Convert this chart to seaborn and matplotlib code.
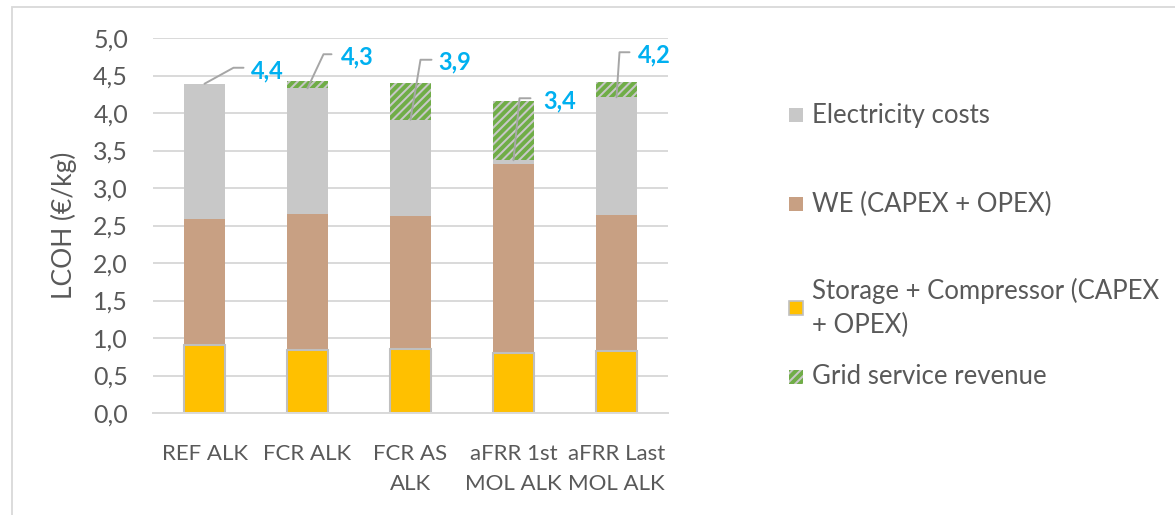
import numpy as np
import pandas as pd
import matplotlib
matplotlib.use("Agg")
import matplotlib.pyplot as plt
import seaborn as sns
from matplotlib.patches import Rectangle
from matplotlib.lines import Line2D

categories = ["REF ALK", "FCR ALK", "FCR AS\nALK", "aFRR 1st\nMOL ALK", "aFRR Last\nMOL ALK"]
storage = [0.91, 0.835, 0.855, 0.80, 0.83]
we = [1.68, 1.815, 1.775, 2.515, 1.81]
electricity = [1.80, 1.68, 1.28, 0.055, 1.57]
grid_revenue = [0.0, 0.10, 0.49, 0.79, 0.21]
legend_labels = ["Electricity costs", "WE (CAPEX + OPEX)",
                 "Storage + Compressor (CAPEX\n+ OPEX)", "Grid service revenue"]

sns.set_theme(style="white")
plt.rcParams["font.family"] = ["Lato", "DejaVu Sans"]
plt.rcParams["hatch.linewidth"] = 2.8
plt.rcParams["hatch.color"] = "#70AD47"

C_ELEC = "#C8C8C8"
C_WE = "#C8A083"
C_STOR = "#FFC000"
C_GREEN = "#70AD47"
TXT = "#595959"
GRID = "#D9D9D9"

s = np.array(storage)
l1 = s
l2 = s + np.array(we)
l3 = l2 + np.array(electricity)
l4 = l3 + np.array(grid_revenue)

df = pd.DataFrame({"cat": categories, "stor": l1, "we": l2, "elec": l3, "tot": l4})

fig = plt.figure(figsize=(11.75, 5.15), dpi=100)
ax = fig.add_axes([153/1175, (515-413)/515, (668-153)/1175, (413-38)/515])

W = 0.40
sns.barplot(data=df, x="cat", y="tot", color=C_ELEC, width=W, ax=ax,
            linewidth=0, hatch="////", edgecolor=C_GREEN, saturation=1, zorder=3)
sns.barplot(data=df, x="cat", y="elec", color=C_ELEC, width=W, ax=ax,
            linewidth=0, saturation=1, zorder=3)
sns.barplot(data=df, x="cat", y="we", color=C_WE, width=W, ax=ax,
            linewidth=0, saturation=1, zorder=3)
sns.barplot(data=df, x="cat", y="stor", color=C_STOR, width=W, ax=ax,
            linewidth=1.5, edgecolor="#BFBFBF", saturation=1, zorder=3)

ax.set_ylim(0, 5.0)
ax.set_xlim(-0.5, len(categories) - 0.5)
ax.set_yticks(np.arange(0, 5.01, 0.5))
ax.set_yticklabels([f"{v:.1f}".replace(".", ",") for v in np.arange(0, 5.01, 0.5)])
ax.yaxis.grid(True, color=GRID, linewidth=1.4, zorder=0)
ax.set_axisbelow(True)
for sp in ["top", "right", "left"]:
    ax.spines[sp].set_visible(False)
ax.spines["bottom"].set_color(GRID)
ax.spines["bottom"].set_linewidth(1.4)
ax.spines["bottom"].set_zorder(4)
ax.set_xlabel("")
ax.set_ylabel("LCOH (€/kg)", fontsize=19, color=TXT, va="center", ha="center")
ax.yaxis.set_label_coords((64 - 153) / 515, 0.5)
ax.tick_params(axis="y", length=0, labelsize=18, labelcolor=TXT, pad=18)
ax.tick_params(axis="x", which="major", length=0, labelsize=16, labelcolor=TXT, pad=22)
ax.set_xticks(np.arange(-0.5, len(categories), 1.0), minor=True)
ax.tick_params(axis="x", which="minor", length=8, width=1.4, color=GRID, direction="out")
for t in ax.get_xticklabels():
    t.set_linespacing(1.65)

# data labels with leader lines
fig.canvas.draw()
offsets = [((29, 16), (39, 16), (46, 13)),
           ((16, 34), (24, 34), (33, 31)),
           ((10, 60), (21, 60), (28, 58)),
           ((6, 62), (17, 62), (30, 59)),
           ((3, 45), (13, 45), (21, 42))]
inv = fig.transFigure.inverted()
for i, net in enumerate(l3):
    x0, y0 = ax.transData.transform((i, net))
    (kx, ky), (ex, ey), (tx, ty) = offsets[i]
    pts = np.array([[x0, y0], [x0 + kx, y0 + ky], [x0 + ex, y0 + ey]])
    fp = inv.transform(pts)
    fig.add_artist(Line2D(fp[:, 0], fp[:, 1], color="#A6A6A6", lw=1.4))
    tp = inv.transform((x0 + tx, y0 + ty))
    fig.text(tp[0], tp[1], f"{net:.1f}".replace(".", ","), color="#00B0F0",
             fontsize=17, fontweight="bold", ha="left", va="center")

# legend
leg_y = [115, 204, 308, 377]
leg_colors = [C_ELEC, C_WE, C_STOR, C_ELEC]
for lab, yy, col, k in zip(legend_labels, leg_y, leg_colors, range(4)):
    sq = 14
    kw = dict(facecolor=col, transform=None)
    if k == 2:
        kw.update(edgecolor="#BFBFBF", linewidth=1.2)
    else:
        kw.update(linewidth=0)
    if k == 3:
        kw.update(hatch="////", edgecolor=C_GREEN, linewidth=0)
    r = Rectangle((789, 515 - yy - sq/2), sq, sq, **kw)
    fig.add_artist(r)
    fig.text(812/1175, (515 - yy)/515, lab, color=TXT, fontsize=18.5,
             ha="left", va="center", linespacing=1.4)

# chart frame
fig.add_artist(Rectangle((12/1175, -0.5), 1.5, (515-7)/515 + 0.5,
                         transform=fig.transFigure, fill=False,
                         edgecolor=GRID, linewidth=1.3))

fig.savefig("out.png", dpi=100)
